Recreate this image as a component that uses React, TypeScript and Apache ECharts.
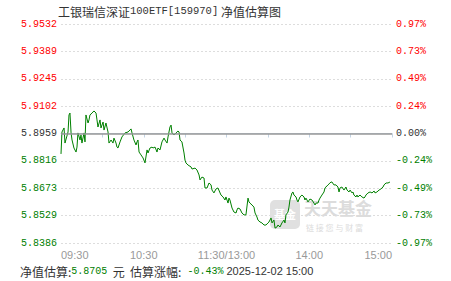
import React, { useEffect, useRef } from 'react';
import * as echarts from 'echarts';

const BASE_NAV = 5.8959;
const STEP = 0.014325;
const NAV_LABELS = ['5.8386', '5.8529', '5.8673', '5.8816', '5.8959', '5.9102', '5.9245', '5.9389', '5.9532'];
const PCT_LABELS = ['-0.97%', '-0.73%', '-0.49%', '-0.24%', '0.00%', '0.24%', '0.49%', '0.73%', '0.97%'];
const TICK_MINUTES = [0, 60, 120, 180, 240];
const TICK_TIMES = ['09:30', '10:30', '11:30/13:00', '14:00', '15:00'];

const minutes = [
  0, 0.7, 2.2, 2.9, 5.1, 5.8, 6.5, 7.3, 8.0, 9.4, 10.9, 11.6, 12.3, 13.8, 14.5, 15.2, 16.7, 17.4, 18.1, 19.6,
  20.3, 21.0, 22.5, 23.9, 25.4, 26.1, 26.8, 28.3, 29.0, 30.5, 31.2, 32.6, 34.1, 34.8, 36.3, 37.7, 38.4, 39.9, 40.6, 41.3,
  42.8, 44.2, 46.4, 48.6, 50.8, 51.5, 52.9, 54.4, 55.1, 55.8, 56.6, 58.0, 59.5, 60.9, 62.4, 63.1, 64.5, 66.0, 66.7, 68.2,
  69.6, 70.3, 71.8, 73.2, 74.7, 75.4, 76.9, 77.6, 79.0, 79.8, 80.5, 81.9, 83.4, 84.8, 85.6, 86.3, 87.7, 89.2, 89.9, 90.6,
  92.1, 94.3, 95.0, 97.2, 98.6, 100.1, 100.8, 102.2, 103.7, 104.4, 105.9, 107.3, 108.8, 109.5, 110.9, 112.4, 113.8, 116.0, 117.5, 118.9,
  119.6, 121.1, 121.8, 122.5, 124.0, 125.4, 126.9, 127.6, 128.3, 129.8, 131.2, 132.7, 134.1, 135.6, 136.3, 137.0, 138.5, 139.9, 140.7, 142.1,
  142.8, 144.3, 145.7, 147.2, 148.6, 150.1, 150.8, 152.3, 153.0, 154.4, 155.2, 156.6, 157.3, 158.8, 160.2, 161.7, 162.4, 163.1, 164.6, 165.3,
  166.0, 167.5, 168.2, 168.9, 170.4, 171.1, 171.8, 173.3, 174.7, 176.2, 176.9, 177.6, 179.1, 180.5, 182.0, 183.4, 184.2, 184.9, 186.3, 187.1,
  187.8, 189.2, 190.7, 191.4, 192.1, 193.6, 195.0, 195.8, 196.5, 197.9, 199.4, 200.8, 201.6, 202.3, 203.7, 205.2, 206.6, 207.4, 208.8, 209.6,
  211.0, 211.7, 212.4, 213.9, 214.6, 215.3, 216.8, 218.2, 219.7, 220.4, 221.1, 222.6, 224.1, 225.5, 227.0, 227.7, 229.1, 230.6, 232.0, 233.5,
  234.2, 235.7, 237.1, 238.5,
];

const navs = [
  5.8852, 5.8967, 5.8988, 5.8909, 5.8967, 5.9056, 5.9066, 5.8962, 5.8925, 5.8883, 5.8862, 5.8888, 5.8962, 5.8925, 5.8951, 5.8909, 5.8962, 5.8915, 5.9056, 5.9014,
  5.9030, 5.9056, 5.9066, 5.9077, 5.9066, 5.9030, 5.8993, 5.9030, 5.8988, 5.9019, 5.8977, 5.9014, 5.8967, 5.8909, 5.8925, 5.8909, 5.8935, 5.8909, 5.8888, 5.8883,
  5.8915, 5.8941, 5.8962, 5.8967, 5.8983, 5.8962, 5.8925, 5.8899, 5.8915, 5.8925, 5.8862, 5.8847, 5.8831, 5.8805, 5.8873, 5.8857, 5.8883, 5.8888, 5.8883, 5.8888,
  5.8862, 5.8883, 5.8873, 5.8915, 5.8935, 5.8925, 5.8909, 5.8941, 5.8993, 5.9003, 5.8962, 5.8951, 5.8962, 5.8972, 5.8967, 5.8925, 5.8915, 5.8857, 5.8820, 5.8805,
  5.8794, 5.8784, 5.8773, 5.8778, 5.8768, 5.8742, 5.8716, 5.8731, 5.8726, 5.8674, 5.8674, 5.8700, 5.8690, 5.8663, 5.8648, 5.8669, 5.8674, 5.8637, 5.8627, 5.8611,
  5.8627, 5.8595, 5.8621, 5.8611, 5.8569, 5.8548, 5.8543, 5.8559, 5.8569, 5.8564, 5.8543, 5.8533, 5.8533, 5.8621, 5.8601, 5.8595, 5.8585, 5.8574, 5.8543, 5.8522,
  5.8506, 5.8496, 5.8491, 5.8480, 5.8480, 5.8491, 5.8496, 5.8517, 5.8491, 5.8506, 5.8464, 5.8470, 5.8480, 5.8470, 5.8491, 5.8506, 5.8491, 5.8533, 5.8548, 5.8574,
  5.8611, 5.8648, 5.8653, 5.8637, 5.8627, 5.8611, 5.8601, 5.8627, 5.8637, 5.8627, 5.8611, 5.8621, 5.8601, 5.8616, 5.8611, 5.8595, 5.8585, 5.8595, 5.8595, 5.8611,
  5.8621, 5.8637, 5.8653, 5.8674, 5.8679, 5.8690, 5.8700, 5.8705, 5.8705, 5.8690, 5.8690, 5.8679, 5.8653, 5.8674, 5.8679, 5.8663, 5.8679, 5.8663, 5.8653, 5.8663,
  5.8648, 5.8653, 5.8637, 5.8627, 5.8637, 5.8627, 5.8637, 5.8627, 5.8621, 5.8627, 5.8637, 5.8648, 5.8653, 5.8648, 5.8658, 5.8648, 5.8653, 5.8663, 5.8669, 5.8679,
  5.8690, 5.8700, 5.8700, 5.8705,
];

const labelColor = (v: number) => (v > 1e-9 ? '#ff0000' : v < -1e-9 ? '#008000' : '#333333');
const tickIndex = (v: number) => Math.round(v / STEP) + 4;

export default function App() {
  const ref = useRef<HTMLDivElement>(null);
  useEffect(() => {
    if (!ref.current) return;
    const chart = echarts.init(ref.current, undefined, { renderer: 'svg' });
    const mono = 'Liberation Mono, DejaVu Sans Mono, monospace';
    const cjk = 'Noto Sans CJK SC, sans-serif';
    chart.setOption({
      animation: false,
      backgroundColor: '#ffffff',
      title: [
        {
          text: '{c|工银瑞信深证}{m|100ETF[159970]}{c| 净值估算图}',
          left: 53,
          top: 0,
          textStyle: {
            fontWeight: 'normal',
            rich: {
              c: { fontFamily: cjk, fontSize: 12, fontWeight: 'normal', color: '#333333' },
              m: { fontFamily: mono, fontSize: 10.5, fontWeight: 'normal', color: '#333333' },
            },
          },
        },
        {
          text: '{c|净值估算:}{g|5.8705}{c|  元  估算涨幅:}{g| -0.43%}{d| 2025-12-02 15:00}',
          left: 15,
          top: 260,
          textStyle: {
            fontWeight: 'normal',
            rich: {
              c: { fontFamily: cjk, fontSize: 12, fontWeight: 'normal', color: '#333333' },
              g: { fontFamily: mono, fontSize: 10, fontWeight: 'normal', color: '#008000' },
              d: { fontFamily: 'Liberation Sans, Arial, sans-serif', fontSize: 11, fontWeight: 'normal', color: '#333333' },
            },
          },
        },
      ],
      graphic: [
        { type: 'rect', z: 1, shape: { x: 270, y: 200, width: 30, height: 29, r: 5 }, style: { fill: '#e0e0e0' } },
        { type: 'text', z: 1, x: 274, y: 208, style: { text: '基金', fontSize: 11, fontWeight: 'bold', fill: '#ffffff', fontFamily: cjk } },
        { type: 'text', z: 1, x: 304, y: 199, style: { text: '天天基金', fontSize: 17, lineHeight: 17, fontWeight: 'bold', fill: '#dcdcdc', fontFamily: cjk } },
        { type: 'text', z: 1, x: 306, y: 223, style: { text: '链 接 您 与 财 富', fontSize: 8, lineHeight: 8, fill: '#dcdcdc', fontFamily: cjk } },
      ],
      grid: { left: 61, right: 59, top: 24, bottom: 38, containLabel: false },
      xAxis: {
        type: 'value',
        min: 0,
        max: 240,
        interval: 30,
        axisLine: { lineStyle: { color: '#c4d4e4', width: 1 } },
        axisTick: { length: 4, lineStyle: { color: '#c4d4e4' } },
        splitLine: { show: false },
        axisLabel: {
          color: '#999999',
          fontSize: 11,
          fontFamily: 'Liberation Sans, Arial, sans-serif',
          margin: 6,
          showMinLabel: true,
          showMaxLabel: true,
          alignMinLabel: 'left',
          alignMaxLabel: 'right',
          formatter: (v: number) => {
            const i = TICK_MINUTES.indexOf(Math.round(v));
            return i >= 0 ? TICK_TIMES[i] : '';
          },
        },
      },
      yAxis: [
        {
          type: 'value',
          position: 'left',
          min: -4 * STEP,
          max: 4 * STEP,
          interval: STEP,
          axisLine: { show: false },
          axisTick: { show: false },
          splitLine: { lineStyle: { color: '#dddddd', type: [2, 2], width: 1 } },
          axisLabel: {
            margin: 4,
            fontFamily: mono,
            fontSize: 10,
            color: (v: number) => labelColor(v),
            formatter: (v: number) => NAV_LABELS[tickIndex(v)],
          },
        },
        {
          type: 'value',
          position: 'right',
          min: -4 * STEP,
          max: 4 * STEP,
          interval: STEP,
          axisLine: { show: false },
          axisTick: { show: false },
          splitLine: { show: false },
          axisLabel: {
            margin: 4,
            fontFamily: mono,
            fontSize: 10,
            color: (v: number) => labelColor(v),
            formatter: (v: number) => PCT_LABELS[tickIndex(v)],
          },
        },
      ],
      series: [
        {
          type: 'line',
          yAxisIndex: 0,
          z: 3,
          showSymbol: false,
          lineStyle: { color: '#008000', width: 1 },
          data: minutes.map((m, i) => [m, navs[i] - BASE_NAV]),
          markLine: {
            silent: true,
            symbol: 'none',
            label: { show: false },
            lineStyle: { color: '#999999', width: 1.5, type: 'solid' },
            data: [{ yAxis: 0 }],
          },
        },
      ],
    });
    return () => chart.dispose();
  }, []);
  return <div ref={ref} style={{ width: 451, height: 281, position: 'absolute', left: 0, top: 0 }} />;
}
